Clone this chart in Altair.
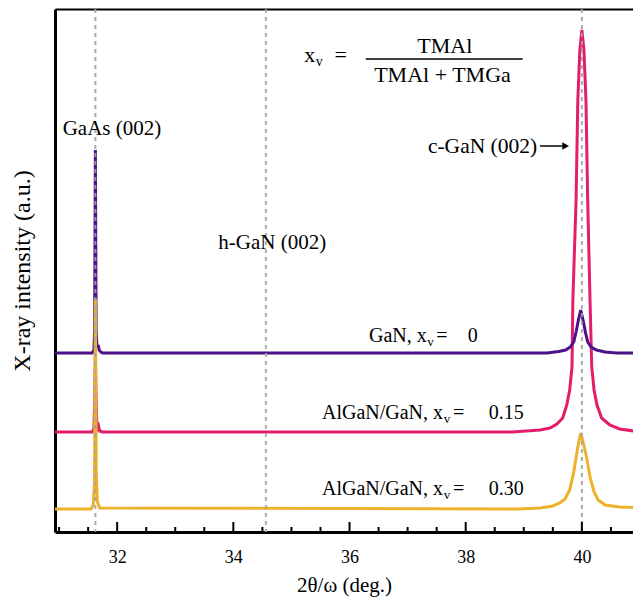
import altair as alt
import pandas as pd

# ---------------- data ----------------
# x: 2θ/ω in degrees; y: intensity in arbitrary units (a.u.)
purple_x = [30.93, 31.57, 31.60, 31.612, 31.625, 31.638, 31.65, 31.66, 31.675, 31.69, 31.72, 31.75,
            39.40, 39.60, 39.72, 39.80, 39.86, 39.90, 39.94, 39.98, 40.02, 40.06, 40.10, 40.16,
            40.25, 40.40, 40.60, 41.02]
purple_y = [179, 179, 182, 200, 382, 200, 188, 184, 187, 182, 180, 179,
            179, 180.5, 182, 185, 190, 200, 212, 222, 212, 200, 190, 185,
            182, 180, 179, 179]

pink_x = [30.93, 31.57, 31.60, 31.612, 31.625, 31.638, 31.65, 31.665, 31.68, 31.70, 31.75,
          38.80, 39.28, 39.45, 39.57, 39.67, 39.74, 39.79, 39.83, 39.845, 39.90, 39.93, 39.965,
          40.00, 40.035, 40.07, 40.10, 40.14, 40.17, 40.21, 40.26, 40.34, 40.48, 40.65, 41.02]
pink_y = [100, 100, 103, 130, 177, 130, 108, 104, 106, 101, 100,
          100, 102, 104, 108, 114, 127, 142, 165, 232, 332, 432, 482,
          502, 482, 432, 332, 232, 165, 142, 127, 114, 107, 103, 100]

orange_x = [30.93, 31.55, 31.59, 31.61, 31.625, 31.64, 31.66, 31.70,
            38.90, 39.28, 39.50, 39.62, 39.71, 39.79, 39.86, 39.93, 39.98, 40.03,
            40.09, 40.14, 40.21, 40.28, 40.40, 40.65, 41.02]
orange_y = [23, 23, 27, 50, 233, 60, 30, 24,
            23, 24, 26, 29, 33, 42, 60, 85, 99, 88,
            72, 55, 40, 32, 27, 25, 24]

ref_lines = [31.625, 34.56, 40.0]          # GaAs(002), h-GaN(002), c-GaN(002)
tick_labels = [32, 34, 36, 38, 40]
tick_major = [32, 34, 36, 38, 40]
tick_minor = [31, 31.5, 32.5, 33, 33.5, 34.5, 35, 35.5, 36.5, 37, 37.5,
              38.5, 39, 39.5, 40.5]

X_MIN, X_MAX = 30.93, 40.88
Y_MAX = 523

# annotations (text, x, y, fontsize)
center_txt = pd.DataFrame({
    "t": ["GaAs (002)", "h-GaN (002)", "c-GaN (002)", "=", "TMAl", "TMAl + TMGa",
          "=", "0", "=", "0.15", "=", "0.30"],
    "x": [31.91, 34.67, 38.29, 35.85, 37.64, 37.60, 37.59, 38.12, 37.88, 38.70, 37.88, 38.70],
    "y": [397, 283, 379, 470, 479, 450, 190, 190, 113, 113, 37, 37],
    "s": [21, 21, 21.5, 22, 22, 22, 20, 20, 20, 20, 20, 20],
})
right_txt = pd.DataFrame({
    "t": ["x", "GaN, x", "AlGaN/GaN, x", "AlGaN/GaN, x"],
    "x": [35.41, 37.33, 37.61, 37.61],
    "y": [470, 190, 113, 37],
    "s": [22, 20, 20, 20],
})
sub_txt = pd.DataFrame({
    "t": ["v", "v", "v", "v"],
    "x": [35.42, 37.34, 37.62, 37.62],
    "y": [466, 186, 109, 33],
    "s": [14, 13, 13, 13],
})
fraction_bar = pd.DataFrame({"x": [36.28], "x2": [38.98], "y": [473]})
arrow_line = pd.DataFrame({"x": [39.28], "x2": [39.66], "y": [386]})
arrow_head = pd.DataFrame({"x": [39.72], "y": [386]})

# ---------------- chart ----------------
FONT = "Liberation Serif"
xs = alt.Scale(domain=[X_MIN, X_MAX], nice=False, zero=False)
ys = alt.Scale(domain=[0, Y_MAX], nice=False, zero=False)

bottom_axis = alt.Axis(values=tick_labels, format="d", ticks=False, tickSize=0, grid=False,
                       domainColor="black", domainWidth=3, labelFont=FONT, labelFontSize=18,
                       labelColor="black", labelPadding=16, title="2θ/ω (deg.)", titleFont=FONT,
                       titleFontSize=21, titleFontWeight="normal", titleColor="black",
                       titlePadding=8)
left_axis = alt.Axis(labels=False, ticks=False, grid=False, domainColor="black", domainWidth=3,
                     title="X-ray intensity (a.u.)", titleFont=FONT, titleFontSize=24,
                     titleFontWeight="normal", titleColor="black", titlePadding=21)
top_axis = alt.Axis(orient="top", labels=False, ticks=False, grid=False, domainColor="black",
                    domainWidth=2, title=None)


def X(field="x", axis=None):
    return alt.X(f"{field}:Q", scale=xs, axis=axis)


def Y(field="y"):
    return alt.Y(f"{field}:Q", scale=ys, axis=left_axis)


def curve(xv, yv, color, xaxis=None):
    df = pd.DataFrame({"x": xv, "y": yv})
    return alt.Chart(df).mark_line(color=color, strokeWidth=3, clip=True).encode(
        x=X(axis=xaxis), y=Y())


pink = curve(pink_x, pink_y, "#e11d6c", xaxis=bottom_axis)
purple = curve(purple_x, purple_y, "#4b1288")
orange = curve(orange_x, orange_y, "#edb22a")

dashes = alt.Chart(pd.DataFrame({"x": ref_lines})).mark_rule(
    color="#a3a3a3", strokeWidth=2, strokeDash=[4, 4], opacity=0.9).encode(x=X(axis=top_axis))

ticks_df = pd.DataFrame({
    "x": tick_major + tick_minor,
    "y0": [0] * (len(tick_major) + len(tick_minor)),
    "y1": [10] * len(tick_major) + [5] * len(tick_minor),
})
ticks = alt.Chart(ticks_df).mark_rule(color="black", strokeWidth=2, clip=True).encode(
    x=X(), y=Y("y0"), y2="y1:Q")


def texts(df, align):
    return alt.Chart(df).mark_text(align=align, baseline="alphabetic", font=FONT,
                                   color="black").encode(
        x=X(), y=Y(), text="t:N", size=alt.Size("s:Q", scale=None, legend=None))


bar = alt.Chart(fraction_bar).mark_rule(color="black", strokeWidth=1.5).encode(
    x=X(), x2="x2:Q", y=Y())
arr = alt.Chart(arrow_line).mark_rule(color="black", strokeWidth=1.5).encode(
    x=X(), x2="x2:Q", y=Y())
head = alt.Chart(arrow_head).mark_point(shape="triangle-right", filled=True, size=60,
                                        color="black", opacity=1).encode(x=X(), y=Y())

chart = alt.layer(
    pink, purple, orange, dashes, ticks,
    texts(center_txt, "center"), texts(right_txt, "right"), texts(sub_txt, "left"),
    bar, arr, head,
).resolve_axis(x="independent").properties(
    width=578, height=523,
    padding={"left": 47, "top": 1, "right": 0, "bottom": 67},
    autosize=alt.AutoSizeParams(type="none"),
    background="white",
).configure_view(stroke=None)

chart.save("out.html", embed_options={"renderer": "svg", "actions": False})
